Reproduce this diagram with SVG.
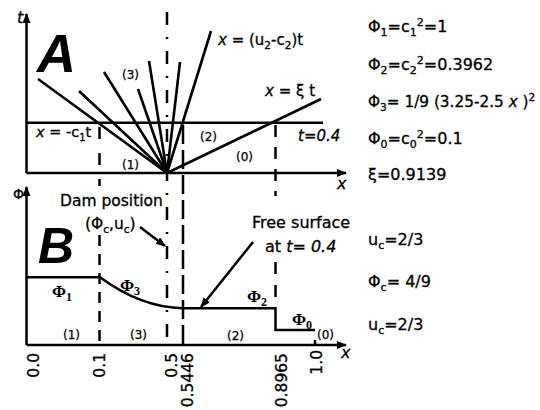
<svg xmlns="http://www.w3.org/2000/svg" width="540" height="410" viewBox="0 0 540 410">
<style>
.ln{stroke:#000;stroke-width:2.5;fill:none}
.fan{stroke:#000;stroke-width:2.6;fill:none}
.t{font-family:"DejaVu Sans","Liberation Sans",sans-serif;font-size:16px;fill:#000;stroke:#000;stroke-width:0.3}
.lab{font-family:"DejaVu Sans","Liberation Sans",sans-serif;font-size:12px;fill:#000;stroke:#000;stroke-width:0.25}
.ser{font-family:"Liberation Serif","Times New Roman",serif;font-size:17px;font-weight:bold;fill:#000}
.big{font-family:"Liberation Sans",Arial,sans-serif;font-style:italic;font-weight:bold;font-size:54px;fill:#000}
.tick{font-family:"DejaVu Sans","Liberation Sans",sans-serif;font-size:15.5px;fill:#000;stroke:#000;stroke-width:0.3}
.it{font-style:italic}
</style>
<defs>
<marker id="ah" viewBox="0 0 10 8" refX="9" refY="4" markerWidth="10" markerHeight="8" markerUnits="userSpaceOnUse" orient="auto">
<path d="M0,0 L10,4 L0,8 Z" fill="#000"/>
</marker>
</defs>
<rect width="540" height="410" fill="#fff"/>

<g id="panelA">
<g id="axesA">
<line class="ln" x1="26.5" y1="173" x2="26.5" y2="14" marker-end="url(#ah)"/>
<line class="ln" x1="26.5" y1="173" x2="346" y2="173" marker-end="url(#ah)"/>
<line class="ln" x1="26.5" y1="122.7" x2="323" y2="122.7"/>
<text class="t it" x="17" y="23">t</text>
<text class="t it" x="337" y="189">x</text>
<text class="big" x="37" y="72">A</text>
</g>
<g id="fan">
<line class="fan" x1="167" y1="173" x2="38" y2="79"/>
<line class="fan" x1="167" y1="173" x2="79" y2="91"/>
<line class="fan" x1="167" y1="173" x2="104" y2="72"/>
<line class="fan" x1="167" y1="173" x2="138" y2="89"/>
<line class="fan" x1="167" y1="173" x2="149" y2="61"/>
<line class="fan" x1="167" y1="173" x2="180" y2="62"/>
<line class="fan" x1="167" y1="173" x2="211" y2="31"/>
<line class="fan" x1="167" y1="173" x2="321" y2="99"/>
</g>
<g id="labelsA">
<text class="lab" x="122" y="79">(3)</text>
<text class="lab" x="122" y="169">(1)</text>
<text class="lab" x="200" y="141">(2)</text>
<text class="lab" x="236" y="161">(0)</text>
<text class="t" x="36" y="137" style="font-size:14.5px"><tspan class="it">x</tspan> = -c<tspan font-size="10" dy="4">1</tspan><tspan dy="-4">t</tspan></text>
<text class="t" x="218" y="45" style="font-size:15px"><tspan class="it">x</tspan> = (u<tspan font-size="10.5" dy="4">2</tspan><tspan dy="-4">-c</tspan><tspan font-size="10.5" dy="4">2</tspan><tspan dy="-4">)t</tspan></text>
<text class="t" x="265" y="96" style="font-size:15px"><tspan class="it">x</tspan> = ξ t</text>
<text class="t it" x="298" y="141" style="font-size:15px">t=0.4</text>
</g>
</g>

<g id="guides">
<line class="ln" x1="167" y1="12" x2="167" y2="345" stroke-dasharray="13 12 2 12"/>
<line class="ln" x1="99.5" y1="127" x2="99.5" y2="186" stroke-dasharray="12 14"/>
<line class="ln" x1="99.5" y1="235" x2="99.5" y2="345" stroke-dasharray="11 8"/>
<line class="ln" x1="183" y1="125" x2="183" y2="345" stroke-dasharray="19 6"/>
<line class="ln" x1="275.5" y1="125" x2="275.5" y2="196" stroke-dasharray="12 10"/>
<line class="ln" x1="275.5" y1="262" x2="275.5" y2="306" stroke-dasharray="12 11"/>
</g>

<g id="panelB">
<g id="axesB">
<line class="ln" x1="26.5" y1="345" x2="26.5" y2="187" marker-end="url(#ah)"/>
<line class="ln" x1="26.5" y1="345" x2="346" y2="345" marker-end="url(#ah)"/>
<line class="ln" x1="315" y1="340" x2="315" y2="345"/>
<text class="t" x="13" y="199" style="font-size:14px">Φ</text>
<text class="t it" x="341" y="358">x</text>
<text class="big" x="38" y="263" style="font-size:50px">B</text>
</g>
<g id="profile">
<path class="ln" d="M26.5,277.3 H100 Q141,307.5 183,308.3 H275.5 V330 H315"/>
</g>
<g id="labelsB">
<text class="ser" x="52" y="297">Φ<tspan font-size="12" dy="4">1</tspan></text>
<text class="ser" x="120" y="291">Φ<tspan font-size="12" dy="4">3</tspan></text>
<text class="ser" x="247" y="302">Φ<tspan font-size="12" dy="4">2</tspan></text>
<text class="ser" x="292" y="325">Φ<tspan font-size="12" dy="4">0</tspan></text>
<text class="lab" x="63" y="339">(1)</text>
<text class="lab" x="130" y="339">(3)</text>
<text class="lab" x="227" y="340">(2)</text>
<text class="lab" x="317" y="339">(0)</text>
</g>
<g id="dam">
<text class="t" x="60" y="206" style="font-size:15.5px">Dam position</text>
<text class="t" x="85" y="229" style="font-size:15.5px">(Φ<tspan font-size="10.5" dy="4">c</tspan><tspan dy="-4">,u</tspan><tspan font-size="10.5" dy="4">c</tspan><tspan dy="-4">)</tspan></text>
<line class="ln" stroke-width="2" x1="140" y1="227" x2="165" y2="246" marker-end="url(#ah)"/>
</g>
<g id="freesurface">
<text class="t" x="252" y="228">Free surface</text>
<text class="t" x="265" y="252">at <tspan class="it">t= 0.4</tspan></text>
<line class="ln" stroke-width="2" x1="253" y1="242" x2="201" y2="307" marker-end="url(#ah)"/>
</g>
<g id="ticks">
<text class="tick" text-anchor="end" transform="translate(39,353) rotate(-90)">0.0</text>
<text class="tick" text-anchor="end" transform="translate(105,353) rotate(-90)">0.1</text>
<text class="tick" text-anchor="end" transform="translate(177,353) rotate(-90)">0.5</text>
<text class="tick" text-anchor="end" transform="translate(193,353) rotate(-90)">0.5446</text>
<text class="tick" text-anchor="end" transform="translate(287,353) rotate(-90)">0.8965</text>
<text class="tick" text-anchor="end" transform="translate(322,350) rotate(-90)">1.0</text>
</g>
</g>

<g id="equations">
<text class="t" x="368" y="32">Φ<tspan font-size="11" dy="4">1</tspan><tspan dy="-4">=c</tspan><tspan font-size="11" dy="4">1</tspan><tspan font-size="11" dy="-10">2</tspan><tspan dy="6">=1</tspan></text>
<text class="t" x="368" y="70">Φ<tspan font-size="11" dy="4">2</tspan><tspan dy="-4">=c</tspan><tspan font-size="11" dy="4">2</tspan><tspan font-size="11" dy="-10">2</tspan><tspan dy="6">=0.3962</tspan></text>
<text class="t" x="368" y="107" style="font-size:15.3px">Φ<tspan font-size="10.5" dy="4">3</tspan><tspan dy="-4">= 1/9 (3.25-2.5 </tspan><tspan class="it">x</tspan> )<tspan font-size="10.5" dy="-6">2</tspan></text>
<text class="t" x="368" y="144">Φ<tspan font-size="11" dy="4">0</tspan><tspan dy="-4">=c</tspan><tspan font-size="11" dy="4">0</tspan><tspan font-size="11" dy="-10">2</tspan><tspan dy="6">=0.1</tspan></text>
<text class="t" x="368" y="180">ξ=0.9139</text>
<text class="t" x="368" y="245">u<tspan font-size="11" dy="4">c</tspan><tspan dy="-4">=2/3</tspan></text>
<text class="t" x="368" y="287">Φ<tspan font-size="11" dy="4">c</tspan><tspan dy="-4">= 4/9</tspan></text>
<text class="t" x="368" y="330">u<tspan font-size="11" dy="4">c</tspan><tspan dy="-4">=2/3</tspan></text>
</g>
</svg>
